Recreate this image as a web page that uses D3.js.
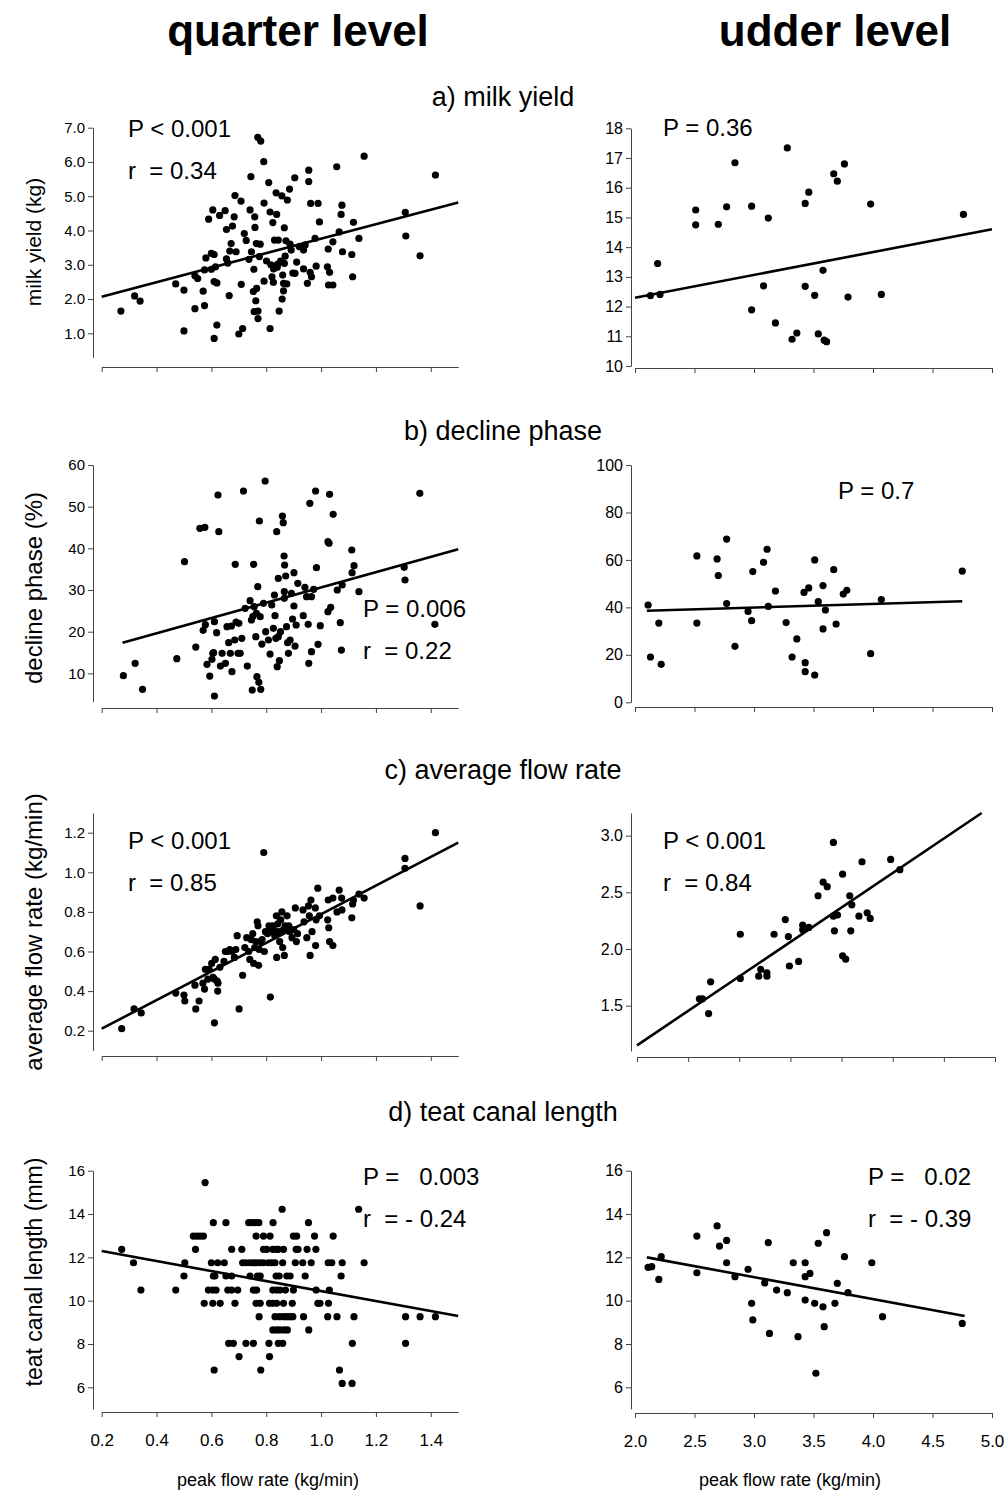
<!DOCTYPE html>
<html>
<head>
<meta charset="utf-8">
<script src="https://cdn.jsdelivr.net/npm/d3@7"></script>
<style>
  body { margin: 0; background: #fff; }
  svg { display: block; font-family: "Liberation Sans", Arial, sans-serif; }
  .axis path, .axis line { stroke: #444; stroke-width: 1; }
  .axis text { fill: #000; }
</style>
</head>
<body>
<svg id="chart" width="1008" height="1497"></svg>
<script>
// ---- data (x = peak flow rate, kg/min) ----
const milkQuarter = [
  [0.27,1.65],[0.32,2.09],[0.34,1.94],[0.47,2.44],[0.50,2.26],[0.50,1.07],[0.54,1.72],[0.54,2.68],[0.55,2.60],[0.57,2.23],
  [0.575,1.81],[0.575,2.85],[0.58,3.20],[0.59,4.33],[0.60,3.33],[0.60,2.87],[0.605,4.60],[0.61,2.51],[0.61,0.85],[0.61,3.30],
  [0.615,2.94],[0.62,2.47],[0.62,1.24],[0.63,4.44],[0.65,4.58],[0.655,3.17],[0.655,4.03],[0.66,3.05],[0.665,2.10],[0.667,3.40],
  [0.672,3.62],[0.677,4.13],[0.683,4.40],[0.686,5.02],[0.69,3.38],[0.70,0.98],[0.708,4.86],[0.709,2.43],[0.714,1.14],[0.72,3.91],
  [0.727,3.71],[0.737,3.16],[0.741,4.60],[0.744,5.57],[0.746,3.38],[0.753,2.22],[0.755,2.87],[0.756,1.63],[0.758,4.40],[0.759,4.09],
  [0.762,1.95],[0.764,3.62],[0.765,2.31],[0.769,6.72],[0.77,1.65],[0.77,1.43],[0.775,3.24],[0.778,3.60],[0.78,6.61],[0.791,6.01],
  [0.792,4.80],[0.792,2.52],[0.801,3.11],[0.809,5.40],[0.814,1.14],[0.814,4.54],[0.817,3.00],[0.821,2.65],[0.824,4.23],[0.826,2.49],
  [0.827,2.88],[0.83,3.72],[0.836,5.10],[0.838,4.47],[0.84,2.93],[0.841,3.01],[0.844,3.72],[0.847,1.65],[0.852,3.11],[0.857,5.01],
  [0.858,2.00],[0.86,2.70],[0.863,2.46],[0.863,2.24],[0.866,4.08],[0.866,3.04],[0.869,3.25],[0.872,3.70],[0.875,2.44],[0.877,4.89],
  [0.885,5.21],[0.887,3.60],[0.891,3.43],[0.897,2.76],[0.904,5.54],[0.905,2.75],[0.911,3.08],[0.92,3.53],[0.936,3.43],[0.936,2.88],
  [0.942,3.58],[0.95,2.46],[0.955,5.76],[0.955,5.43],[0.96,2.78],[0.962,4.79],[0.965,2.65],[0.978,3.77],[0.982,2.96],[0.989,4.79],
  [0.994,4.25],[1.023,2.94],[1.026,3.46],[1.027,2.41],[1.031,2.78],[1.043,2.41],[1.043,3.67],[1.057,5.86],[1.066,3.96],[1.073,4.47],
  [1.076,4.74],[1.078,3.38],[1.112,3.30],[1.115,2.65],[1.118,4.24],[1.138,3.77],[1.157,6.17],[1.307,4.53],[1.309,3.84],[1.361,3.26],
  [1.417,5.62]
];
const milkQuarterFit = [[0.2,2.07],[1.5,4.82]];

const milkUdder = [
  [2.13,12.37],[2.19,13.45],[2.21,12.41],[2.51,15.25],[2.51,14.75],[2.70,14.77],[2.77,15.36],[2.84,16.84],[2.98,15.38],[2.98,11.89],
  [3.08,12.70],[3.12,14.98],[3.18,11.45],[3.28,17.34],[3.32,10.90],[3.36,11.11],[3.43,15.47],[3.43,12.68],[3.46,15.85],[3.51,12.38],
  [3.54,11.08],[3.58,13.22],[3.59,10.87],[3.61,10.82],[3.67,16.47],[3.70,16.22],[3.76,16.80],[3.79,12.32],[3.98,15.45],[4.07,12.41],
  [4.76,15.10]
];
const milkUdderFit = [[2.0,12.3],[5.0,14.6]];

const declineQuarter = [
  [0.279,9.44],[0.322,12.4],[0.349,6.16],[0.474,13.52],[0.502,36.8],[0.543,16.32],[0.558,44.8],[0.576,45.04],[0.57,20.32],[0.578,21.68],
  [0.584,12.16],[0.594,9.36],[0.602,13.36],[0.608,14.96],[0.611,4.56],[0.611,22.4],[0.619,19.76],[0.624,52.8],[0.627,44.0],[0.633,11.76],
  [0.639,14.8],[0.651,12.4],[0.657,21.2],[0.663,17.36],[0.669,14.8],[0.673,21.36],[0.675,10.4],[0.685,18.0],[0.687,36.16],[0.69,22.32],
  [0.697,14.8],[0.70,22.0],[0.711,18.4],[0.717,53.76],[0.723,25.6],[0.731,11.76],[0.741,27.44],[0.746,22.8],[0.749,6.0],[0.754,36.16],
  [0.756,26.0],[0.762,18.8],[0.764,24.4],[0.766,9.2],[0.769,30.8],[0.773,7.84],[0.775,46.56],[0.778,23.6],[0.78,6.16],[0.784,17.04],
  [0.79,26.8],[0.796,56.16],[0.798,20.0],[0.808,18.0],[0.814,14.64],[0.82,26.4],[0.826,20.8],[0.83,28.8],[0.832,23.84],[0.835,18.4],
  [0.838,44.0],[0.84,11.6],[0.844,32.8],[0.848,13.04],[0.852,20.0],[0.859,47.76],[0.862,46.16],[0.865,38.16],[0.866,28.0],[0.867,36.0],
  [0.871,33.36],[0.874,21.2],[0.878,17.36],[0.881,14.8],[0.887,18.0],[0.896,23.04],[0.901,26.16],[0.901,34.16],[0.905,16.56],[0.909,21.6],
  [0.915,31.6],[0.935,23.84],[0.941,30.64],[0.953,21.76],[0.955,12.4],[0.959,50.8],[0.965,15.2],[0.965,28.4],[0.973,30.16],[0.98,53.76],
  [0.983,35.36],[0.989,16.96],[0.997,21.44],[1.025,24.8],[1.031,52.96],[1.035,25.84],[1.044,48.16],[1.025,41.6],[1.029,41.2],[1.059,30.0],
  [1.07,22.16],[1.074,15.6],[1.077,31.2],[1.112,39.6],[1.113,34.16],[1.12,35.84],[1.138,29.6],[1.303,35.44],[1.306,32.4],[1.36,53.2],
  [1.415,21.76],[0.751,23.6],[0.866,29.6],[0.892,29.2],[0.947,28.4],[0.844,18.8],[0.705,14.8],[0.605,14.8]
];
const declineQuarterFit = [[0.276,17.36],[1.50,39.76]];

const declineUdder = [
  [2.11,41.0],[2.13,19.1],[2.20,33.4],[2.22,16.0],[2.52,61.7],[2.52,33.4],[2.69,60.4],[2.70,53.4],[2.77,68.8],[2.77,41.6],
  [2.84,23.6],[2.95,38.3],[2.98,34.4],[2.99,55.1],[3.08,59.0],[3.11,64.5],[3.12,40.4],[3.18,46.9],[3.27,33.6],[3.32,19.1],
  [3.36,26.7],[3.42,46.3],[3.43,16.7],[3.43,12.9],[3.46,48.2],[3.51,11.5],[3.51,60.0],[3.54,42.4],[3.58,30.9],[3.58,49.2],
  [3.60,38.9],[3.67,55.9],[3.69,33.0],[3.75,45.6],[3.78,47.2],[3.98,20.5],[4.07,43.3],[4.75,55.3]
];
const declineUdderFit = [[2.10,38.6],[4.75,42.6]];

const flowQuarter = [
  [0.273,0.21],[0.318,0.31],[0.344,0.29],[0.47,0.39],[0.50,0.38],[0.503,0.35],[0.54,0.43],[0.543,0.31],[0.555,0.35],[0.575,0.41],
  [0.569,0.44],[0.578,0.51],[0.587,0.46],[0.592,0.51],[0.601,0.54],[0.606,0.47],[0.611,0.24],[0.614,0.56],[0.621,0.45],[0.623,0.40],
  [0.631,0.52],[0.646,0.55],[0.651,0.60],[0.658,0.60],[0.667,0.61],[0.675,0.60],[0.684,0.57],[0.689,0.61],[0.694,0.68],[0.701,0.31],
  [0.714,0.48],[0.722,0.62],[0.729,0.67],[0.736,0.60],[0.74,0.56],[0.745,0.66],[0.751,0.69],[0.754,0.54],[0.758,0.62],[0.762,0.65],
  [0.767,0.75],[0.77,0.73],[0.772,0.53],[0.774,0.61],[0.779,0.65],[0.785,0.66],[0.791,1.10],[0.793,0.60],[0.797,0.70],[0.805,0.69],
  [0.81,0.73],[0.815,0.37],[0.817,0.70],[0.823,0.73],[0.827,0.71],[0.831,0.68],[0.837,0.78],[0.838,0.57],[0.842,0.74],[0.845,0.70],
  [0.849,0.65],[0.853,0.76],[0.857,0.80],[0.86,0.62],[0.863,0.71],[0.866,0.58],[0.869,0.73],[0.876,0.78],[0.882,0.73],[0.885,0.70],
  [0.894,0.67],[0.90,0.71],[0.906,0.82],[0.91,0.65],[0.914,0.69],[0.934,0.81],[0.938,0.75],[0.948,0.67],[0.954,0.83],[0.957,0.78],
  [0.96,0.58],[0.963,0.86],[0.967,0.70],[0.98,0.63],[0.979,0.82],[0.982,0.76],[0.988,0.92],[0.994,0.78],[1.024,0.76],[1.026,0.86],
  [1.028,0.72],[1.031,0.65],[1.043,0.87],[1.043,0.63],[1.058,0.80],[1.066,0.91],[1.075,0.87],[1.076,0.81],[1.112,0.77],[1.115,0.84],
  [1.118,0.86],[1.138,0.89],[1.157,0.87],[1.306,1.07],[1.306,1.02],[1.361,0.83],[1.417,1.20],[0.611,0.46],[0.624,0.44]
];
const flowQuarterFit = [[0.2,0.21],[1.5,1.15]];

const flowUdder = [
  [2.11,1.56],[2.14,1.56],[2.20,1.43],[2.22,1.71],[2.51,2.13],[2.51,1.74],[2.69,1.76],[2.71,1.82],[2.77,1.76],[2.77,1.79],
  [2.84,2.13],[2.95,2.26],[2.98,2.11],[2.99,1.85],[3.08,1.89],[3.12,2.21],[3.12,2.17],[3.18,2.19],[3.27,2.47],[3.32,2.59],
  [3.36,2.55],[3.42,2.94],[3.42,2.29],[3.43,2.16],[3.46,2.30],[3.51,2.66],[3.51,1.94],[3.54,1.91],[3.58,2.47],[3.59,2.16],
  [3.60,2.39],[3.67,2.29],[3.70,2.77],[3.75,2.32],[3.78,2.27],[3.98,2.79],[4.07,2.70]
];
const flowUdderFit = [[1.5,1.15],[4.87,3.2]];

const canalQuarter = [
  [0.577,15.45],
  [0.858,14.22],[1.137,14.22],
  [0.607,13.60],[0.653,13.60],[0.736,13.60],[0.747,13.60],[0.760,13.60],[0.773,13.60],[0.825,13.60],[0.954,13.60],
  [0.534,12.98],[0.547,12.98],[0.559,12.98],[0.571,12.98],[0.763,12.98],[0.790,12.98],[0.814,12.98],[0.899,12.98],[0.911,12.98],[0.976,12.98],[1.044,12.98],
  [0.273,12.37],[0.542,12.37],[0.674,12.37],[0.711,12.37],[0.790,12.37],[0.802,12.37],[0.824,12.37],[0.836,12.37],[0.844,12.37],[0.863,12.37],[0.909,12.37],[0.916,12.37],[0.949,12.37],[0.981,12.37],
  [0.316,11.75],[0.503,11.75],[0.600,11.75],[0.623,11.75],[0.647,11.75],[0.714,11.75],[0.726,11.75],[0.741,11.75],[0.753,11.75],[0.765,11.75],[0.778,11.75],[0.790,11.75],
  [0.808,11.75],[0.820,11.75],[0.832,11.75],[0.860,11.75],[0.906,11.75],[0.933,11.75],[0.964,11.75],[1.026,11.75],[1.039,11.75],[1.077,11.75],[1.157,11.75],
  [0.500,11.14],[0.607,11.14],[0.613,11.14],[0.653,11.14],[0.674,11.14],[0.741,11.14],[0.768,11.14],[0.778,11.14],[0.836,11.14],[0.847,11.14],[0.875,11.14],[0.887,11.14],[0.942,11.14],[1.073,11.14],
  [0.343,10.49],[0.470,10.49],[0.589,10.49],[0.605,10.49],[0.617,10.49],[0.660,10.49],[0.674,10.49],[0.696,10.49],[0.753,10.49],[0.765,10.49],[0.824,10.49],[0.838,10.49],[0.850,10.49],[0.870,10.49],[0.899,10.49],[0.982,10.49],[1.030,10.49],
  [0.574,9.88],[0.605,9.88],[0.632,9.88],[0.686,9.88],[0.763,9.88],[0.778,9.88],[0.812,9.88],[0.824,9.88],[0.838,9.88],[0.863,9.88],[0.895,9.88],[0.988,9.88],[0.996,9.88],[1.027,9.88],
  [0.774,9.26],[0.832,9.26],[0.848,9.26],[0.863,9.26],[0.875,9.26],[0.887,9.26],[0.897,9.26],[0.936,9.26],[1.024,9.26],[1.058,9.26],[1.120,9.26],[1.308,9.26],[1.361,9.26],[1.417,9.26],
  [0.824,8.65],[0.838,8.65],[0.850,8.65],[0.865,8.65],[0.877,8.65],[0.955,8.65],
  [0.663,8.03],[0.680,8.03],[0.726,8.03],[0.753,8.03],[0.810,8.03],[0.844,8.03],[0.860,8.03],[1.114,8.03],[1.308,8.03],
  [0.701,7.42],[0.812,7.42],
  [0.610,6.80],[0.780,6.80],[1.067,6.80],
  [1.077,6.18],[1.113,6.18]
];
const canalQuarterFit = [[0.2,12.29],[1.5,9.29]];

const canalUdder = [
  [2.11,11.54],[2.14,11.57],[2.20,10.98],[2.22,12.03],[2.52,12.98],[2.52,11.29],[2.69,13.45],[2.71,12.52],[2.77,12.78],[2.77,11.75],
  [2.84,11.11],[2.95,11.45],[2.98,9.88],[2.99,9.11],[3.09,10.82],[3.12,12.68],[3.13,8.49],[3.19,10.49],[3.28,10.37],[3.33,11.75],
  [3.37,8.34],[3.43,11.75],[3.43,11.11],[3.43,10.03],[3.47,11.26],[3.51,9.88],[3.52,6.65],[3.54,12.65],[3.58,9.72],[3.59,8.80],
  [3.61,13.14],[3.68,9.88],[3.70,10.80],[3.76,12.03],[3.79,10.37],[3.99,11.75],[4.08,9.26],[4.75,8.95]
];
const canalUdderFit = [[2.10,12.0],[4.77,9.29]];

// ---- ticks and texts ----
const quarterXTicks = [0.2, 0.4, 0.6, 0.8, 1.0, 1.2, 1.4];
const udderXTicks = [2.0, 2.5, 3.0, 3.5, 4.0, 4.5, 5.0];
const udderFlowXTicks = [1.5, 2.0, 2.5, 3.0, 3.5, 4.0, 4.5, 5.0];
const milkQuarterTicks = [1, 2, 3, 4, 5, 6, 7];
const milkUdderTicks = [10, 11, 12, 13, 14, 15, 16, 17, 18];
const declineQuarterTicks = [10, 20, 30, 40, 50, 60];
const declineUdderTicks = [0, 20, 40, 60, 80, 100];
const flowQuarterTicks = [0.2, 0.4, 0.6, 0.8, 1.0, 1.2];
const flowUdderTicks = [1.5, 2.0, 2.5, 3.0];
const canalTicks = [6, 8, 10, 12, 14, 16];

const columnTitles = ["quarter level", "udder level"];
const rowTitles = ["a) milk yield", "b) decline phase", "c) average flow rate", "d) teat canal length"];
const yTitles = ["milk yield (kg)", "decline phase (%)", "average flow rate (kg/min)", "teat canal length (mm)"];
const xTitle = "peak flow rate (kg/min)";
const stats = [
  ["P < 0.001", "r  = 0.34"], ["P = 0.36"],
  ["P = 0.006", "r  = 0.22"], ["P = 0.7"],
  ["P < 0.001", "r  = 0.85"], ["P < 0.001", "r  = 0.84"],
  ["P =   0.003", "r  = - 0.24"], ["P =   0.02", "r  = - 0.39"]
];

// ---- layout ----
const L = { ax: 93, xr: [101.7, 458.2], lab: 15, titleX: 268 };
const R = { ax: 631, xr: [635, 992], lab: 16, titleX: 790 };

const panels = [
  { side: L, pts: milkQuarter, fit: milkQuarterFit, xd: [0.2, 1.5], xt: quarterXTicks, yd: [0.3, 7], yr: [357.3, 127.7], yt: milkQuarterTicks, fmt: ".1f", axY: 367, st: [128, 137] },
  { side: R, pts: milkUdder, fit: milkUdderFit, xd: [2.0, 5.0], xt: udderXTicks, yd: [10, 18], yr: [366, 128.3], yt: milkUdderTicks, fmt: "d", axY: 368, st: [663, 136] },
  { side: L, pts: declineQuarter, fit: declineQuarterFit, xd: [0.2, 1.5], xt: quarterXTicks, yd: [3.2, 60], yr: [701.7, 465], yt: declineQuarterTicks, fmt: "d", axY: 708, st: [363, 617] },
  { side: R, pts: declineUdder, fit: declineUdderFit, xd: [2.0, 5.0], xt: udderXTicks, yd: [0, 100], yr: [702.3, 465], yt: declineUdderTicks, fmt: "d", axY: 707, st: [838, 499] },
  { side: L, pts: flowQuarter, fit: flowQuarterFit, xd: [0.2, 1.5], xt: quarterXTicks, yd: [0.1, 1.3], yr: [1050.5, 812.9], yt: flowQuarterTicks, fmt: ".1f", axY: 1056, st: [128, 849] },
  { side: R, pts: flowUdder, fit: flowUdderFit, xd: [1.5, 5.0], xt: udderFlowXTicks, xr: [637, 995], yd: [1.1, 3.2], yr: [1051, 813], yt: flowUdderTicks, fmt: ".1f", axY: 1057, st: [663, 849] },
  { side: L, pts: canalQuarter, fit: canalQuarterFit, xd: [0.2, 1.5], xt: quarterXTicks, yd: [5, 16], yr: [1409, 1170.7], yt: canalTicks, fmt: "d", axY: 1412, st: [363, 1185], bottom: true },
  { side: R, pts: canalUdder, fit: canalUdderFit, xd: [2.0, 5.0], xt: udderXTicks, yd: [5, 16], yr: [1409, 1170.7], yt: canalTicks, fmt: "d", axY: 1413, st: [868, 1185], bottom: true }
];

const svg = d3.select("#chart");

// column titles
svg.selectAll(".col-title")
  .data(columnTitles)
  .enter()
  .append("text")
  .attr("x", (d, i) => i === 0 ? 298 : 835)
  .attr("y", 46)
  .attr("text-anchor", "middle")
  .style("font-size", "44px")
  .style("font-weight", "bold")
  .text(d => d);

// row titles
const rowBase = [106, 440, 779, 1121];
svg.selectAll(".row-title")
  .data(rowTitles)
  .enter()
  .append("text")
  .attr("x", 503)
  .attr("y", (d, i) => rowBase[i])
  .attr("text-anchor", "middle")
  .style("font-size", "27px")
  .text(d => d);

// y axis titles
const yTitlePos = [[41, 242, 21], [42, 588, 24], [42, 932, 24], [42, 1272, 23]];
yTitles.forEach((t, i) => {
  const [x, y, fs] = yTitlePos[i];
  svg.append("text")
    .attr("transform", `translate(${x},${y}) rotate(-90)`)
    .attr("text-anchor", "middle")
    .style("font-size", fs + "px")
    .text(t);
});

panels.forEach((p, i) => {
  const x = d3.scaleLinear().domain(p.xd).range(p.xr || p.side.xr);
  const y = d3.scaleLinear().domain(p.yd).range(p.yr);
  const g = svg.append("g");

  // y axis
  g.append("g")
    .attr("class", "axis")
    .attr("transform", `translate(${p.side.ax},0)`)
    .call(d3.axisLeft(y).tickValues(p.yt).tickFormat(d3.format(p.fmt)).tickSize(5).tickSizeOuter(0))
    .call(a => a.selectAll("text").style("font-size", p.side.lab + "px").attr("x", -8))
    .call(a => a.selectAll("text").attr("font-family", null));

  // x axis
  g.append("g")
    .attr("class", "axis")
    .attr("transform", `translate(0,${p.axY})`)
    .call(d3.axisBottom(x).tickValues(p.xt)
      .tickFormat(p.bottom ? d3.format(".1f") : "")
      .tickSize(5).tickSizeOuter(0))
    .call(a => a.selectAll("text").style("font-size", "17px").attr("y", 22))
    .call(a => a.selectAll("text").attr("font-family", null));

  // regression line
  g.append("path")
    .datum(p.fit)
    .attr("fill", "none")
    .attr("stroke", "#000")
    .attr("stroke-width", 2.6)
    .attr("d", d3.line().x(d => x(d[0])).y(d => y(d[1])));

  // points
  g.selectAll("circle")
    .data(p.pts)
    .enter()
    .append("circle")
    .attr("cx", d => x(d[0]))
    .attr("cy", d => y(d[1]))
    .attr("r", 3.6)
    .attr("fill", "#000");

  // stats
  g.selectAll(".stat")
    .data(stats[i])
    .enter()
    .append("text")
    .attr("x", p.st[0])
    .attr("y", (d, k) => p.st[1] + k * 42)
    .style("font-size", "24px")
    .style("white-space", "pre")
    .text(d => d);

  // bottom x title
  if (p.bottom) {
    g.append("text")
      .attr("x", p.side.titleX)
      .attr("y", 1486)
      .attr("text-anchor", "middle")
      .style("font-size", "18px")
      .text(xTitle);
  }
});
</script>
</body>
</html>
